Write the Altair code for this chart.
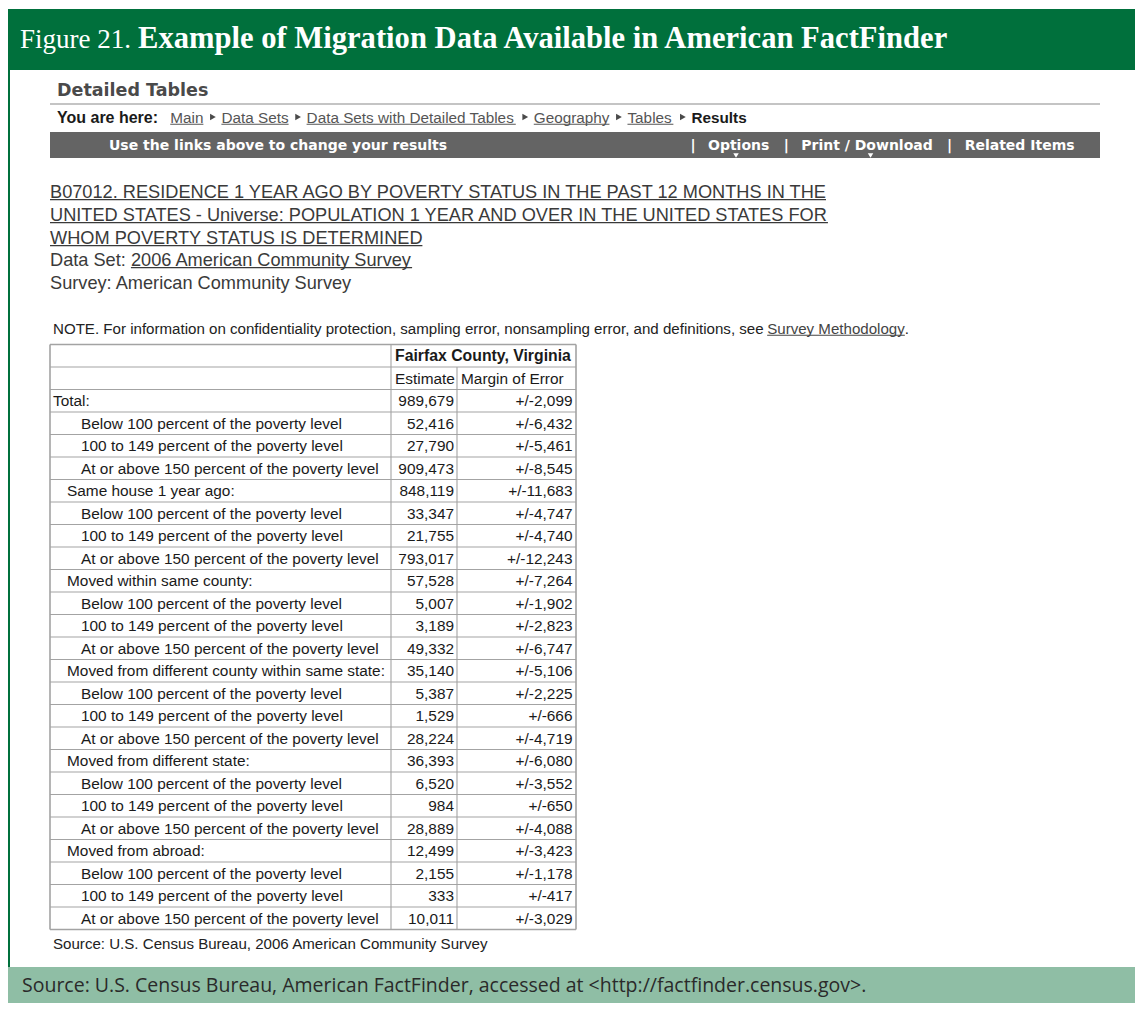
import altair as alt
import pandas as pd

# ------------------------------------------------------------------ data
figure_label = "Figure 21."
figure_title = "Example of Migration Data Available in American FactFinder"
page_heading = "Detailed Tables"
breadcrumb_intro = "You are here:"
breadcrumb_links = ["Main", "Data Sets", "Data Sets with Detailed Tables", "Geography", "Tables"]
breadcrumb_current = "Results"
toolbar_hint = "Use the links above to change your results"
toolbar_items = ["Options", "Print / Download", "Related Items"]
table_title_lines = [
    "B07012. RESIDENCE 1 YEAR AGO BY POVERTY STATUS IN THE PAST 12 MONTHS IN THE",
    "UNITED STATES - Universe: POPULATION 1 YEAR AND OVER IN THE UNITED STATES FOR",
    "WHOM POVERTY STATUS IS DETERMINED",
]
dataset_prefix = "Data Set: "
dataset_name = "2006 American Community Survey"
survey_line = "Survey: American Community Survey"
note_prefix = ("NOTE. For information on confidentiality protection, sampling error, "
               "nonsampling error, and definitions, see ")
note_link = "Survey Methodology"
note_suffix = "."
geography = "Fairfax County, Virginia"
column_headers = ["Estimate", "Margin of Error"]

row_labels = [
    "Total:",
    "Below 100 percent of the poverty level",
    "100 to 149 percent of the poverty level",
    "At or above 150 percent of the poverty level",
    "Same house 1 year ago:",
    "Below 100 percent of the poverty level",
    "100 to 149 percent of the poverty level",
    "At or above 150 percent of the poverty level",
    "Moved within same county:",
    "Below 100 percent of the poverty level",
    "100 to 149 percent of the poverty level",
    "At or above 150 percent of the poverty level",
    "Moved from different county within same state:",
    "Below 100 percent of the poverty level",
    "100 to 149 percent of the poverty level",
    "At or above 150 percent of the poverty level",
    "Moved from different state:",
    "Below 100 percent of the poverty level",
    "100 to 149 percent of the poverty level",
    "At or above 150 percent of the poverty level",
    "Moved from abroad:",
    "Below 100 percent of the poverty level",
    "100 to 149 percent of the poverty level",
    "At or above 150 percent of the poverty level",
]
estimates = [989679, 52416, 27790, 909473, 848119, 33347, 21755, 793017,
             57528, 5007, 3189, 49332, 35140, 5387, 1529, 28224,
             36393, 6520, 984, 28889, 12499, 2155, 333, 10011]
margins = [2099, 6432, 5461, 8545, 11683, 4747, 4740, 12243,
           7264, 1902, 2823, 6747, 5106, 2225, 666, 4719,
           6080, 3552, 650, 4088, 3423, 1178, 417, 3029]
table_source = "Source: U.S. Census Bureau, 2006 American Community Survey"
figure_source = ("Source: U.S. Census Bureau, American FactFinder, accessed at "
                 "<http://factfinder.census.gov>.")

# ------------------------------------------------------------------ font metrics (Arial / Liberation Sans)
def _widths(pairs):
    d = {}
    for chars, w in pairs:
        for ch in chars:
            d[ch] = w
    return d

_REG = _widths([
    (" !,./:;I", 278), ("ijl", 222), ("ft", 278), ("r-()", 333), ("0123456789", 556),
    ("abdeghnopqu", 556), ("cksvxyz", 500), ("m", 833), ("w", 722), ("<>+=", 584),
    ("ABEKPSVXY", 667), ("CDHNRU", 722), ("FTZ", 611), ("GOQ", 778), ("J", 500),
    ("L", 556), ("M", 833), ("W", 944),
])
_BOLD = _widths([
    (" ,./I", 278), (":;-", 333), ("r", 389), ("0123456789", 556),
    ("acesvxyk", 556), ("bdghnopqu", 611), ("ft", 333), ("ijl", 278), ("m", 889),
    ("w", 778), ("z", 500), ("ABCDHKNRU", 722), ("EPSVXY", 667), ("FTZL", 611),
    ("GOQ", 778), ("J", 556), ("M", 833), ("W", 944),
])
# DejaVu Sans Bold (toolbar)
_DVB = _widths([
    (" ", 348), ("/", 365), ("|", 365), ("O", 850), ("p", 716), ("t", 435), ("i", 343),
    ("o", 687), ("n", 712), ("s", 595), ("P", 733), ("r", 493), ("D", 830), ("w", 924),
    ("l", 343), ("a", 675), ("d", 716), ("R", 770), ("e", 678), ("I", 372), ("m", 1042),
])


def tw(s, size, table=_REG, kern=1.0):
    return sum(table.get(ch, 556) for ch in s) * size / 1000.0 * kern


# ------------------------------------------------------------------ layout
SANS = "Liberation Sans"
SERIF = "Liberation Serif"
DV = "DejaVu Sans"
HUMAN = "Open Sans"
GREEN = "#00703c"
PALE = "#8fbea5"
X_END = 1135          # last page column that fits without horizontal scrolling
Y_END = 1003          # last page row that fits without vertical scrolling

texts, rules, rects, tris = [], [], [], []


def add_text(x, y, t, size, font=SANS, weight="normal", align="left", color="#222222"):
    texts.append(dict(x=x, y=y, t=t, size=size, font=font, weight=weight, align=align, c=color))


def underline(x, base, w, size, color):
    yy = base + 0.12 * size
    rules.append(dict(x=x, x2=x + w, y=yy, y2=yy, c=color, w=max(1.0, 0.07 * size)))


# frame
rects.append(dict(x=8, x2=X_END, y=9, y2=70, c=GREEN))
rects.append(dict(x=8, x2=10, y=70, y2=967, c=GREEN))
rects.append(dict(x=8, x2=X_END, y=967, y2=Y_END, c=PALE))
rects.append(dict(x=50, x2=1100, y=132, y2=158, c="#646464"))
rules.append(dict(x=50, x2=1100, y=104, y2=104, c="#c4c4c4", w=2))

# figure heading
add_text(20, 48, figure_label, 27, font=SERIF, color="white")
add_text(138, 48, figure_title, 30.6, font=SERIF, weight="bold", color="white")

# page heading
add_text(57, 96.4, page_heading, 17.5, font=DV, weight="bold", color="#4a4a4a")

# breadcrumb
BC = 15.3
bc_base = 122.5
add_text(57, bc_base, breadcrumb_intro, 16, weight="bold", color="#1a1a1a")
x = 57 + tw(breadcrumb_intro, 16, _BOLD) + 11
for link in breadcrumb_links:
    w = tw(link, BC)
    add_text(x, bc_base, link, BC, color="#555555")
    underline(x, bc_base, w, BC, "#555555")
    x += w
    tris.append(dict(x=x + 9.5, y=117, c="#4a4a4a", shape="triangle-right"))
    x += 18
add_text(x, bc_base, breadcrumb_current, BC, weight="bold", color="#1a1a1a")

# toolbar
TB = 14
tb_base = 150.1
add_text(109, tb_base, toolbar_hint, TB, font=DV, weight="bold", color="white")
sep = 693.0
for k, item in enumerate(toolbar_items):
    add_text(sep, tb_base, "|", TB, font=DV, weight="bold", align="center", color="white")
    start = sep + 15
    add_text(start, tb_base, item, TB, font=DV, weight="bold", color="white")
    if item == "Options":
        tris.append(dict(x=start + tw("Opt", TB, _DVB), y=155.5, c="white", shape="triangle-down"))
    if item.startswith("Print"):
        tris.append(dict(x=start + tw("Print / D", TB, _DVB) + tw("o", TB, _DVB) / 2,
                         y=155.5, c="white", shape="triangle-down"))
    sep = start + tw(item, TB, _DVB) + 17.5

# table title
TT = 18.2
tcol = "#3a3a3a"
for i, line in enumerate(table_title_lines):
    base = 197.5 + 23 * i
    add_text(50, base, line, TT, color=tcol)
    underline(50, base, tw(line, TT, kern=0.99), TT, tcol)
add_text(50, 265.5, dataset_prefix, TT, color=tcol)
dx = 50 + tw(dataset_prefix, TT)
add_text(dx, 265.5, dataset_name, TT, color=tcol)
underline(dx, 265.5, tw(dataset_name, TT), TT, tcol)
add_text(50, 288.5, survey_line, TT, color=tcol)

# note
NF = 15.1
add_text(53, 333.5, note_prefix, NF, color="#222222")
nx = 53 + tw(note_prefix, NF, kern=0.9965)
add_text(nx, 333.5, note_link, NF, color="#444444")
underline(nx, 333.5, tw(note_link, NF), NF, "#444444")
add_text(nx + tw(note_link, NF), 333.5, note_suffix, NF, color="#222222")

# table
TF = 15.4
top = 344.5
rh = 22.5
xl, xd1, xd2, xr = 50, 391, 457, 576
nrows = 2 + len(row_labels)
bottom = top + rh * nrows
lc = "#a3a3a3"
for k in range(nrows + 1):
    yy = top + rh * k
    rules.append(dict(x=xl, x2=xr, y=yy, y2=yy, c=lc, w=1.6 if k in (0, nrows) else 1.1))
rules.append(dict(x=xl, x2=xl, y=top, y2=bottom, c=lc, w=1.6))
rules.append(dict(x=xr, x2=xr, y=top, y2=bottom, c=lc, w=1.6))
rules.append(dict(x=xd1, x2=xd1, y=top, y2=bottom, c=lc, w=1.1))
rules.append(dict(x=xd2, x2=xd2, y=top + rh, y2=bottom, c=lc, w=1.1))

off = rh / 2 + 0.36 * TF
add_text(xd1 + 4, top + off, geography, 15.8, weight="bold", color="#1a1a1a")
add_text(xd1 + 4, top + rh + off, column_headers[0], TF, color="#1a1a1a")
add_text(xd2 + 4, top + rh + off, column_headers[1], TF, color="#1a1a1a")
for i, (lab, est, moe) in enumerate(zip(row_labels, estimates, margins)):
    level = 0 if i == 0 else (2 if lab.endswith("poverty level") else 1)
    base = top + rh * (2 + i) + off
    add_text(53 + 14 * level, base, lab, TF, color="#1a1a1a")
    add_text(xd2 - 3, base, f"{est:,}", TF, align="right", color="#1a1a1a")
    add_text(xr - 3.5, base, f"+/-{moe:,}", TF, align="right", color="#1a1a1a")

add_text(53, 948.5, table_source, NF, color="#222222")

# figure source
add_text(22, 991.5, figure_source, 19.5, font=HUMAN, color="#2a2a2a")

# ------------------------------------------------------------------ chart
XS = alt.Scale(domain=[8, X_END], nice=False, zero=False)
YS = alt.Scale(domain=[8, Y_END], nice=False, zero=False, reverse=True)


def X(f="x"):
    return alt.X(f"{f}:Q", scale=XS, axis=None)


def Y(f="y"):
    return alt.Y(f"{f}:Q", scale=YS, axis=None)


layers = []
layers.append(
    alt.Chart(pd.DataFrame(rects)).mark_rect().encode(
        x=X(), x2="x2:Q", y=Y(), y2="y2:Q", color=alt.Color("c:N", scale=None)
    )
)
layers.append(
    alt.Chart(pd.DataFrame(rules)).mark_rule(strokeCap="butt").encode(
        x=X(), x2="x2:Q", y=Y(), y2="y2:Q",
        color=alt.Color("c:N", scale=None),
        strokeWidth=alt.StrokeWidth("w:Q", scale=None),
    )
)
tdf = pd.DataFrame(tris)
for shape, g in tdf.groupby("shape"):
    layers.append(
        alt.Chart(g).mark_point(shape=shape, filled=True, size=44 if shape == "triangle-right" else 30,
                                opacity=1).encode(
            x=X(), y=Y(), color=alt.Color("c:N", scale=None)
        )
    )
df = pd.DataFrame(texts)
for (font, size, weight, align), g in df.groupby(["font", "size", "weight", "align"]):
    layers.append(
        alt.Chart(g).mark_text(
            font=font, fontSize=float(size), fontWeight=weight, align=align, baseline="alphabetic"
        ).encode(x=X(), y=Y(), text="t:N", color=alt.Color("c:N", scale=None))
    )

chart = (
    alt.layer(*layers)
    .properties(width=X_END - 8, height=Y_END - 8, padding=0,
                autosize=alt.AutoSizeParams(type="none"), background="white")
    .configure_view(stroke=None)
)
chart.save("out.html", embed_options={"renderer": "svg", "actions": False})
